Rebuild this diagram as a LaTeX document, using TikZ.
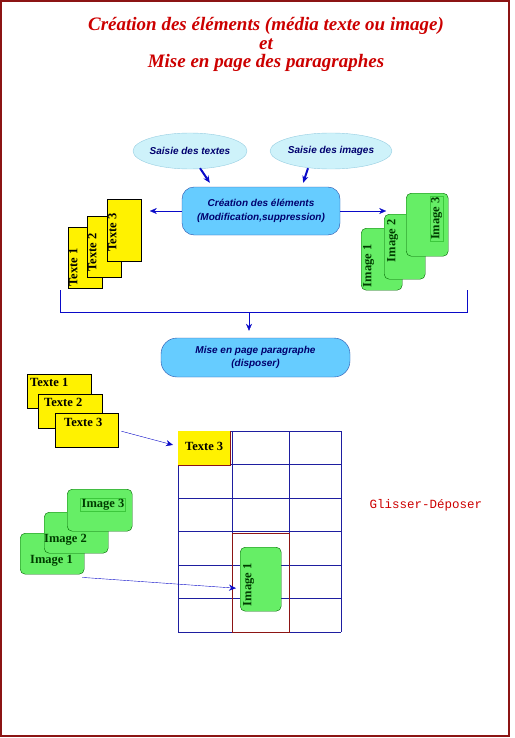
\documentclass[tikz,border=0pt]{standalone}
\usepackage{fontspec}
\setmainfont{Liberation Serif}
\newfontfamily\bubblefont{Liberation Sans}
\newfontfamily\dragfont{Liberation Mono}
\usetikzlibrary{shapes.geometric,arrows.meta,positioning,calc}
\def\gridtop{431}
\def\gridbottom{632}
\def\gridleft{178}
\def\gridright{341}
\def\rowheight{33.5}

\definecolor{titlered}{RGB}{204,0,0}
\definecolor{framered}{RGB}{140,20,20}
\definecolor{linkblue}{RGB}{10,10,200}
\definecolor{gridblue}{RGB}{30,30,160}
\definecolor{ellfill}{RGB}{206,242,250}
\definecolor{ellline}{RGB}{150,205,225}
\definecolor{boxfill}{RGB}{102,204,255}
\definecolor{boxline}{RGB}{40,80,170}
\definecolor{boxtext}{RGB}{0,0,110}
\definecolor{cardgreen}{RGB}{102,238,102}
\definecolor{cardline}{RGB}{0,100,0}
\definecolor{greentext}{RGB}{0,60,0}
\definecolor{highlight}{RGB}{60,200,60}

\tikzset{
  titletext/.style={text=titlered, align=center,
    font=\fontsize{19}{18.5}\selectfont\bfseries\itshape},
  saisie/.style={ellipse, draw=ellline, fill=ellfill, minimum width=113pt,
    minimum height=36pt, inner sep=0pt, text=boxtext,
    font=\bubblefont\fontsize{10}{11}\selectfont\bfseries\itshape},
  action/.style={rectangle, draw=boxline, fill=boxfill, inner sep=0pt,
    align=center, text=boxtext,
    font=\bubblefont\fontsize{10}{14.5}\selectfont\bfseries\itshape},
  textcard/.style={rectangle, draw=black, fill=yellow, inner sep=0pt},
  imagecard/.style={rectangle, rounded corners=5pt, draw=cardline,
    fill=cardgreen, inner sep=0pt},
  cardlabel/.style={inner sep=1pt, font=\fontsize{12.5}{14}\selectfont\bfseries},
  imagelabel/.style={cardlabel, text=greentext},
  link/.style={draw=linkblue, -{Stealth[length=7pt,width=6pt]}},
  gridline/.style={draw=gridblue, line width=0.8pt},
}

\begin{document}
\begin{tikzpicture}[x=1pt,y=-1pt]
  \useasboundingbox (0,0) rectangle (514,738);
  \draw[framered, line width=1.5pt] (1,1) rectangle (509,736);

  \node[titletext] (title) at (266,44.5)
    {Création des éléments (média texte ou image)\\et\\Mise en page des paragraphes};

  % saisie et creation
  \node[saisie] (saisie-textes) at (190,151) {Saisie des textes};
  \node[saisie] (saisie-images) at (331,151) {Saisie des images};
  \node[action, rounded corners=12pt, minimum width=158pt, minimum height=48pt]
    (creation) at (261,211) {Création des éléments\\(Modification,suppression)};

  \draw[link, line width=2pt] ($ (saisie-textes.south) + (10,-1) $)
    -- ($ (creation.north west) + (28,-4) $);
  \draw[link, line width=2pt] ($ (saisie-images.south) + (-23,-1) $)
    -- ($ (creation.north east) + (-37,-4) $);

  \draw[link] (creation.west) -- ++(-32,0) coordinate (to-textes);
  \draw[link] (creation.east) -- ++(46,0) coordinate (to-images);

  % cartes texte
  \node[textcard, minimum width=34pt, minimum height=61pt, anchor=north west] (tA1) at (68,227) {};
  \node[cardlabel, rotate=90, anchor=north west] (tA1-label) at ($ (tA1.south west) + (0,-1) $) {Texte 1};
  \node[textcard, minimum width=34pt, minimum height=61pt, anchor=north west] (tA2) at (87,216) {};
  \node[cardlabel, rotate=90, anchor=north west] (tA2-label) at ($ (tA2.south west) + (0,-5) $) {Texte 2};
  \node[textcard, minimum width=34pt, minimum height=62pt, anchor=north west] (tA3) at (107,199) {};
  \node[cardlabel, rotate=90, anchor=north west] (tA3-label) at ($ (tA3.south west) + (0,-9) $) {Texte 3};

  % cartes image
  \node[imagecard, minimum width=41pt, minimum height=62pt, anchor=north west] (iA1) at (361,228) {};
  \node[imagelabel, rotate=90, anchor=north west] (iA1-label) at ($ (iA1.south west) + (1,-2) $) {Image 1};
  \node[imagecard, minimum width=41pt, minimum height=65pt, anchor=north west] (iA2) at (384,214) {};
  \node[imagelabel, rotate=90, anchor=north west] (iA2-label) at ($ (iA2.south west) + (2,-16) $) {Image 2};
  \node[imagecard, minimum width=42pt, minimum height=63pt, anchor=north west] (iA3) at (406,193) {};
  \node[imagelabel, rotate=90, anchor=south east, draw=highlight, line width=0.4pt]
    (iA3-label) at ($ (iA3.north east) + (-5,3) $) {Image 3};

  % regroupement
  \coordinate (BracketA) at (60,290);
  \coordinate (BracketB) at (60,312);
  \coordinate (BracketC) at (467,312);
  \coordinate (BracketD) at (467,290);
  \draw[draw=linkblue] (BracketA) -- (BracketB) -- (BracketC) -- (BracketD);

  \node[action, rounded corners=16pt, minimum width=189pt, minimum height=39pt, font=\bubblefont\fontsize{10}{13}\selectfont\bfseries\itshape]
    (mise-en-page) at (255.5,357.5) {Mise en page paragraphe\\(disposer)};
  \draw[link] (BracketB -| 249,0) -- ($ (mise-en-page.north) + (-6.5,-7) $);

  % grille de page
  \foreach \gx in {178,232,289,341}
    \draw[gridline] (\gx,\gridtop) -- (\gx,\gridbottom);
  \foreach \k in {0,...,6}
    \draw[gridline] (\gridleft,{\gridtop+\k*\rowheight}) -- (\gridright,{\gridtop+\k*\rowheight});

  \node[fill=yellow, minimum width=52pt, minimum height=33.5pt, inner sep=0pt, anchor=north west,
    cardlabel, font=\fontsize{12.5}{14}\selectfont\bfseries] (cell) at (178,431) {\raisebox{3pt}{Texte 3}};
  \draw[framered] (cell.north east) -- (cell.south east) -- (cell.south west);

  \node[draw=framered, line width=0.8pt, minimum width=57pt, minimum height=99pt, inner sep=0pt, anchor=north west]
    (dropzone) at (232,533) {};
  \node[imagecard, minimum width=41pt, minimum height=64pt, anchor=north west] (iC1) at (240,547) {};
  \node[imagelabel, rotate=90, anchor=north west] (iC1-label) at ($ (iC1.south west) + (2,-4) $) {Image 1};

  % cartes a glisser
  \node[textcard, minimum width=64pt, minimum height=34pt, anchor=north west] (tB1) at (27,374) {};
  \node[cardlabel, anchor=west] (tB1-label) at ($ (tB1.north west) + (2,8) $) {Texte 1};
  \node[textcard, minimum width=64pt, minimum height=34pt, anchor=north west] (tB2) at (38,394) {};
  \node[cardlabel, anchor=west] (tB2-label) at ($ (tB2.north west) + (5,8) $) {Texte 2};
  \node[textcard, minimum width=63pt, minimum height=34pt, anchor=north west] (tB3) at (55,413) {};
  \node[cardlabel, anchor=west] (tB3-label) at ($ (tB3.north west) + (8,9) $) {Texte 3};

  \node[imagecard, minimum width=64pt, minimum height=41pt, anchor=north west] (iB1) at (20,533) {};
  \node[imagelabel, anchor=west] (iB1-label) at ($ (iB1.north west) + (9,28) $) {Image 1};
  \node[imagecard, minimum width=64pt, minimum height=41pt, anchor=north west] (iB2) at (44,512) {};
  \node[imagelabel, anchor=west] (iB2-label) at ($ (iB2.north west) + (-1,28) $) {Image 2};
  \node[imagecard, minimum width=65pt, minimum height=42pt, anchor=north west] (iB3) at (67,489) {};
  \node[imagelabel, anchor=center, draw=highlight, line width=0.4pt] (iB3-label) at (103,504.5) {Image 3};

  \draw[link] ($ (tB3.east) + (3,1) $) -- ($ (cell.west) + (-5,-3) $);
  \draw[link] ($ (iB1.south east) + (-2,3) $) -- ($ (iC1.west) + (-4,9) $);

  \node[text=titlered, font=\dragfont\fontsize{12.5}{14}\selectfont] (glisser) at (426,505) {Glisser-Déposer};
\end{tikzpicture}
\end{document}
